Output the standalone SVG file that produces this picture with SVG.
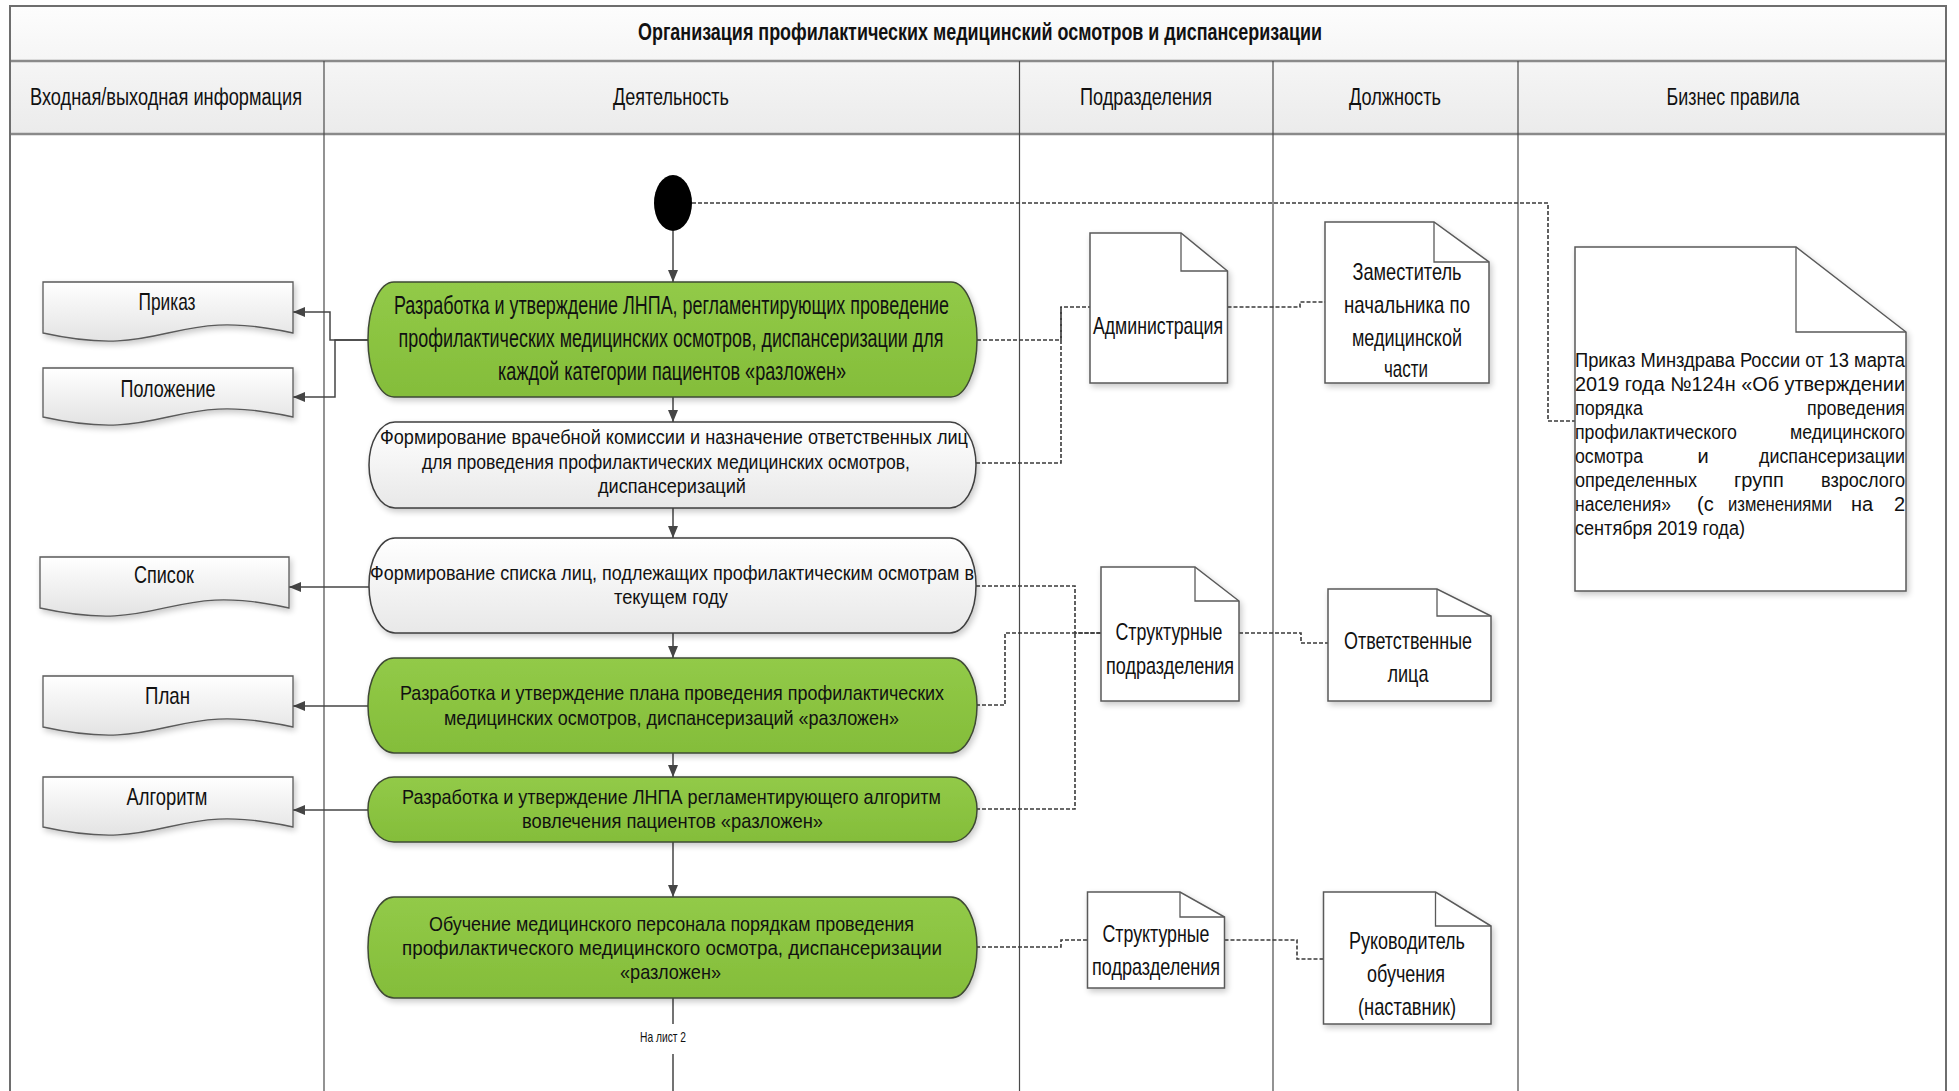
<svg xmlns="http://www.w3.org/2000/svg" width="1959" height="1091" viewBox="0 0 1959 1091">
  <defs>
    <linearGradient id="bandFill" x1="0" y1="0" x2="0" y2="1">
      <stop offset="0" stop-color="#fdfdfd"/>
      <stop offset="1" stop-color="#ebebeb"/>
    </linearGradient>
    <linearGradient id="greenFill" x1="0" y1="0" x2="0" y2="1">
      <stop offset="0" stop-color="#92ca48"/>
      <stop offset="1" stop-color="#84bd3a"/>
    </linearGradient>
    <linearGradient id="greyFill" x1="0" y1="0" x2="0" y2="1">
      <stop offset="0" stop-color="#ffffff"/>
      <stop offset="1" stop-color="#e8e8e8"/>
    </linearGradient>
    <linearGradient id="docFill" x1="0" y1="0" x2="0" y2="1">
      <stop offset="0" stop-color="#ffffff"/>
      <stop offset="1" stop-color="#e3e3e3"/>
    </linearGradient>
    <filter id="shadow" x="-10%" y="-15%" width="125%" height="140%">
      <feGaussianBlur in="SourceAlpha" stdDeviation="3"/>
      <feOffset dx="2" dy="3"/>
      <feComponentTransfer><feFuncA type="linear" slope="0.22"/></feComponentTransfer>
      <feMerge><feMergeNode/><feMergeNode in="SourceGraphic"/></feMerge>
    </filter>
    <marker id="arrow" viewBox="0 0 12 10" refX="12" refY="5" markerWidth="12" markerHeight="10" markerUnits="userSpaceOnUse" orient="auto">
      <path d="M0,0 L12,5 L0,10 Z" fill="#454545"/>
    </marker>
  </defs>
  <style>
    text { font-family: "Liberation Sans", Arial, sans-serif; fill: #111; }
    .hdr { font-size: 23px; text-anchor: middle; }
    .title { font-size: 23px; font-weight: bold; text-anchor: middle; }
    .act { font-size: 21px; text-anchor: middle; }
    .act1 { font-size: 25px; text-anchor: middle; }
    .lbl { font-size: 24px; text-anchor: middle; }
    .rule { font-size: 20px; }
    .small { font-size: 15px; text-anchor: middle; }
    .green { fill: url(#greenFill); stroke: #3f4a35; stroke-width: 1.5; filter: url(#shadow); }
    .grey { fill: url(#greyFill); stroke: #3f3f3f; stroke-width: 1.5; filter: url(#shadow); }
    .doc { fill: url(#docFill); stroke: #5a5a5a; stroke-width: 1.3; filter: url(#shadow); }
    .note { fill: #ffffff; stroke: #5a5a5a; stroke-width: 1.5; filter: url(#shadow); }
    .fold { fill: none; stroke: #5a5a5a; stroke-width: 1.3; }
    .flow { fill: none; stroke: #454545; stroke-width: 1.5; }
    .dash { fill: none; stroke: #3a3a3a; stroke-width: 1.6; stroke-dasharray: 4 2; }
    .grid { stroke: #4a4a4a; stroke-width: 1.2; }
    .band { stroke: #8a8a8a; stroke-width: 2.5; }
  </style>

  <!-- swimlane table -->
  <g id="frame">
    <rect x="10" y="6" width="1936" height="128" fill="url(#bandFill)"/>
    <line class="band" x1="10" y1="61" x2="1946" y2="61"/>
    <line class="band" x1="10" y1="134" x2="1946" y2="134"/>
    <line class="grid" x1="324" y1="61" x2="324" y2="1091"/>
    <line class="grid" x1="1019.5" y1="61" x2="1019.5" y2="1091"/>
    <line class="grid" x1="1273" y1="61" x2="1273" y2="1091"/>
    <line class="grid" x1="1518" y1="61" x2="1518" y2="1091"/>
    <rect x="10" y="6" width="1936" height="1100" fill="none" stroke="#6e6e6e" stroke-width="2"/>
    <text class="title" x="980" y="40" textLength="684" lengthAdjust="spacingAndGlyphs">Организация профилактических медицинский осмотров и диспансеризации</text>
    <text class="hdr" x="166" y="105" textLength="272" lengthAdjust="spacingAndGlyphs">Входная/выходная информация</text>
    <text class="hdr" x="671" y="105" textLength="116" lengthAdjust="spacingAndGlyphs">Деятельность</text>
    <text class="hdr" x="1146" y="105" textLength="132" lengthAdjust="spacingAndGlyphs">Подразделения</text>
    <text class="hdr" x="1395" y="105" textLength="92" lengthAdjust="spacingAndGlyphs">Должность</text>
    <text class="hdr" x="1733" y="105" textLength="133" lengthAdjust="spacingAndGlyphs">Бизнес правила</text>
  </g>

  <!-- connectors -->
  <g id="connectors">
    <path class="flow" d="M673,231 V282" marker-end="url(#arrow)"/>
    <path class="flow" d="M673,397 V422" marker-end="url(#arrow)"/>
    <path class="flow" d="M673,508 V538" marker-end="url(#arrow)"/>
    <path class="flow" d="M673,633 V658" marker-end="url(#arrow)"/>
    <path class="flow" d="M673,753 V777" marker-end="url(#arrow)"/>
    <path class="flow" d="M673,842 V897" marker-end="url(#arrow)"/>
    <path class="flow" d="M673,998 V1024 M673,1054 V1091"/>
    <path class="flow" d="M368,340 H330 V312 H293" marker-end="url(#arrow)"/>
    <path class="flow" d="M368,340 H335 V397 H293" marker-end="url(#arrow)"/>
    <path class="flow" d="M369,587 H289" marker-end="url(#arrow)"/>
    <path class="flow" d="M368,706 H293" marker-end="url(#arrow)"/>
    <path class="flow" d="M368,810 H293" marker-end="url(#arrow)"/>

    <path class="dash" d="M692,203 H1548 V421 H1575"/>
    <path class="dash" d="M977,340 H1061 V307 H1090"/>
    <path class="dash" d="M976,463 H1061 V307"/>
    <path class="dash" d="M1227.5,307 H1300 V302 H1325"/>
    <path class="dash" d="M976,586 H1075 V633 H1101"/>
    <path class="dash" d="M976,809 H1075 V633"/>
    <path class="dash" d="M976,705 H1005 V633 H1101"/>
    <path class="dash" d="M1239,633 H1301 V643 H1328"/>
    <path class="dash" d="M976,947 H1061 V940 H1087.5"/>
    <path class="dash" d="M1224.5,940 H1297 V959 H1323.5"/>

    <text class="small" x="663" y="1042" textLength="46" lengthAdjust="spacingAndGlyphs">На лист 2</text>
  </g>

  <!-- start -->
  <g id="start">
    <ellipse cx="673" cy="203" rx="19" ry="28" fill="#000"/>
  </g>

  <!-- activities -->
  <g id="act1">
    <rect class="green" x="368" y="282" width="609" height="115" rx="26" ry="57"/>
    <text class="act1" x="671.5" y="314" textLength="555" lengthAdjust="spacingAndGlyphs">Разработка и утверждение ЛНПА, регламентирующих проведение</text>
    <text class="act1" x="671" y="347" textLength="545" lengthAdjust="spacingAndGlyphs">профилактических медицинских осмотров, диспансеризации для</text>
    <text class="act1" x="672" y="380" textLength="348" lengthAdjust="spacingAndGlyphs">каждой категории пациентов «разложен»</text>
  </g>
  <g id="act2">
    <rect class="grey" x="369" y="422" width="607" height="86" rx="26" ry="43"/>
    <text class="act" x="674" y="444" textLength="588" lengthAdjust="spacingAndGlyphs">Формирование врачебной комиссии и назначение ответственных лиц</text>
    <text class="act" x="666" y="469" textLength="488" lengthAdjust="spacingAndGlyphs">для проведения профилактических медицинских осмотров,</text>
    <text class="act" x="672" y="493" textLength="148" lengthAdjust="spacingAndGlyphs">диспансеризаций</text>
  </g>
  <g id="act3">
    <rect class="grey" x="369" y="538" width="607" height="95" rx="26" ry="47"/>
    <text class="act" x="672" y="580" textLength="604" lengthAdjust="spacingAndGlyphs">Формирование списка лиц, подлежащих профилактическим осмотрам в</text>
    <text class="act" x="671" y="604" textLength="114" lengthAdjust="spacingAndGlyphs">текущем году</text>
  </g>
  <g id="act4">
    <rect class="green" x="368" y="658" width="609" height="95" rx="26" ry="47"/>
    <text class="act" x="672" y="700" textLength="544" lengthAdjust="spacingAndGlyphs">Разработка и утверждение плана проведения профилактических</text>
    <text class="act" x="671.5" y="725" textLength="455" lengthAdjust="spacingAndGlyphs">медицинских осмотров, диспансеризаций «разложен»</text>
  </g>
  <g id="act5">
    <rect class="green" x="368" y="777" width="609" height="65" rx="26" ry="32"/>
    <text class="act" x="671.5" y="804" textLength="539" lengthAdjust="spacingAndGlyphs">Разработка и утверждение ЛНПА регламентирующего алгоритм</text>
    <text class="act" x="672.5" y="828" textLength="301" lengthAdjust="spacingAndGlyphs">вовлечения пациентов  «разложен»</text>
  </g>
  <g id="act6">
    <rect class="green" x="368" y="897" width="609" height="101" rx="26" ry="50"/>
    <text class="act" x="671.5" y="931" textLength="485" lengthAdjust="spacingAndGlyphs">Обучение медицинского персонала порядкам проведения</text>
    <text class="act" x="672" y="955" textLength="540" lengthAdjust="spacingAndGlyphs">профилактического медицинского осмотра, диспансеризации</text>
    <text class="act" x="670.5" y="979" textLength="101" lengthAdjust="spacingAndGlyphs">«разложен»</text>
  </g>

  <!-- input / output documents -->
  <g id="doc-prikaz">
    <path class="doc" d="M43,282 H293 V333 C166,305 170,361 43,333 Z"/>
    <text class="lbl" x="167" y="310" textLength="57" lengthAdjust="spacingAndGlyphs">Приказ</text>
  </g>
  <g id="doc-polozhenie">
    <path class="doc" d="M43,368 H293 V417 C166,389 170,445 43,417 Z"/>
    <text class="lbl" x="168" y="397" textLength="95" lengthAdjust="spacingAndGlyphs">Положение</text>
  </g>
  <g id="doc-spisok">
    <path class="doc" d="M40,557 H289 V608 C163,580 167,636 40,608 Z"/>
    <text class="lbl" x="164" y="583" textLength="60" lengthAdjust="spacingAndGlyphs">Список</text>
  </g>
  <g id="doc-plan">
    <path class="doc" d="M43,676 H293 V727 C166,699 170,755 43,727 Z"/>
    <text class="lbl" x="167.5" y="704" textLength="45" lengthAdjust="spacingAndGlyphs">План</text>
  </g>
  <g id="doc-algoritm">
    <path class="doc" d="M43,777 H293 V827 C166,799 170,855 43,827 Z"/>
    <text class="lbl" x="167" y="805" textLength="81" lengthAdjust="spacingAndGlyphs">Алгоритм</text>
  </g>

  <!-- departments -->
  <g id="dept-admin">
    <path class="note" d="M1090,233 H1181 L1227.5,271 V383 H1090 Z"/>
    <path class="fold" d="M1181,233 V271 H1227.5"/>
    <text class="lbl" x="1158" y="334" textLength="130" lengthAdjust="spacingAndGlyphs">Администрация</text>
  </g>
  <g id="dept-struct-1">
    <path class="note" d="M1101,567 H1195 L1239,601 V701 H1101 Z"/>
    <path class="fold" d="M1195,567 V601 H1239"/>
    <text class="lbl" x="1169" y="640" textLength="107" lengthAdjust="spacingAndGlyphs">Структурные</text>
    <text class="lbl" x="1170" y="674" textLength="128" lengthAdjust="spacingAndGlyphs">подразделения</text>
  </g>
  <g id="dept-struct-2">
    <path class="note" d="M1087.5,892 H1180 L1224.5,917 V988 H1087.5 Z"/>
    <path class="fold" d="M1180,892 V917 H1224.5"/>
    <text class="lbl" x="1156" y="942" textLength="107" lengthAdjust="spacingAndGlyphs">Структурные</text>
    <text class="lbl" x="1156" y="975" textLength="128" lengthAdjust="spacingAndGlyphs">подразделения</text>
  </g>

  <!-- positions -->
  <g id="role-deputy">
    <path class="note" d="M1325,222 H1434 L1489,262 V383 H1325 Z"/>
    <path class="fold" d="M1434,222 V262 H1489"/>
    <text class="lbl" x="1407" y="280" textLength="109" lengthAdjust="spacingAndGlyphs">Заместитель</text>
    <text class="lbl" x="1407" y="313" textLength="126" lengthAdjust="spacingAndGlyphs">начальника  по</text>
    <text class="lbl" x="1407" y="346" textLength="110" lengthAdjust="spacingAndGlyphs">медицинской</text>
    <text class="lbl" x="1406" y="377" textLength="44" lengthAdjust="spacingAndGlyphs">части</text>
  </g>
  <g id="role-responsible">
    <path class="note" d="M1328,589 H1437 L1491,616 V701 H1328 Z"/>
    <path class="fold" d="M1437,589 V616 H1491"/>
    <text class="lbl" x="1408" y="649" textLength="128" lengthAdjust="spacingAndGlyphs">Ответственные</text>
    <text class="lbl" x="1408" y="682" textLength="41" lengthAdjust="spacingAndGlyphs">лица</text>
  </g>
  <g id="role-mentor">
    <path class="note" d="M1323.5,892 H1435.5 L1491,926 V1024 H1323.5 Z"/>
    <path class="fold" d="M1435.5,892 V926 H1491"/>
    <text class="lbl" x="1407" y="949" textLength="116" lengthAdjust="spacingAndGlyphs">Руководитель</text>
    <text class="lbl" x="1406" y="982" textLength="78" lengthAdjust="spacingAndGlyphs">обучения</text>
    <text class="lbl" x="1407" y="1015" textLength="98" lengthAdjust="spacingAndGlyphs">(наставник)</text>
  </g>

  <!-- business rule -->
  <g id="rule-order">
    <path class="note" d="M1575,247 H1796 L1906,332 V591 H1575 Z"/>
    <path class="fold" d="M1796,247 V332 H1906"/>
    <text class="rule" x="1575" y="367" textLength="330" lengthAdjust="spacingAndGlyphs">Приказ Минздрава России от 13 марта</text>
    <text class="rule" x="1575" y="391" textLength="330" lengthAdjust="spacingAndGlyphs">2019 года №124н «Об утверждении</text>
    <text class="rule" x="1575" y="415" textLength="68" lengthAdjust="spacingAndGlyphs">порядка</text>
    <text class="rule" x="1905" y="415" text-anchor="end" textLength="98" lengthAdjust="spacingAndGlyphs">проведения</text>
    <text class="rule" x="1575" y="439" textLength="162" lengthAdjust="spacingAndGlyphs">профилактического</text>
    <text class="rule" x="1905" y="439" text-anchor="end" textLength="115" lengthAdjust="spacingAndGlyphs">медицинского</text>
    <text class="rule" x="1575" y="463" textLength="68" lengthAdjust="spacingAndGlyphs">осмотра</text>
    <text class="rule" x="1703" y="463" text-anchor="middle">и</text>
    <text class="rule" x="1905" y="463" text-anchor="end" textLength="146" lengthAdjust="spacingAndGlyphs">диспансеризации</text>
    <text class="rule" x="1575" y="487" textLength="122" lengthAdjust="spacingAndGlyphs">определенных</text>
    <text class="rule" x="1759" y="487" text-anchor="middle">групп</text>
    <text class="rule" x="1905" y="487" text-anchor="end" textLength="84" lengthAdjust="spacingAndGlyphs">взрослого</text>
    <text class="rule" x="1575" y="511" textLength="96" lengthAdjust="spacingAndGlyphs">населения»</text>
    <text class="rule" x="1697" y="511">(с</text>
    <text class="rule" x="1780" y="511" text-anchor="middle" textLength="104" lengthAdjust="spacingAndGlyphs">изменениями</text>
    <text class="rule" x="1862" y="511" text-anchor="middle">на</text>
    <text class="rule" x="1905" y="511" text-anchor="end">2</text>
    <text class="rule" x="1575" y="535" textLength="170" lengthAdjust="spacingAndGlyphs">сентября 2019 года)</text>
  </g>
</svg>
